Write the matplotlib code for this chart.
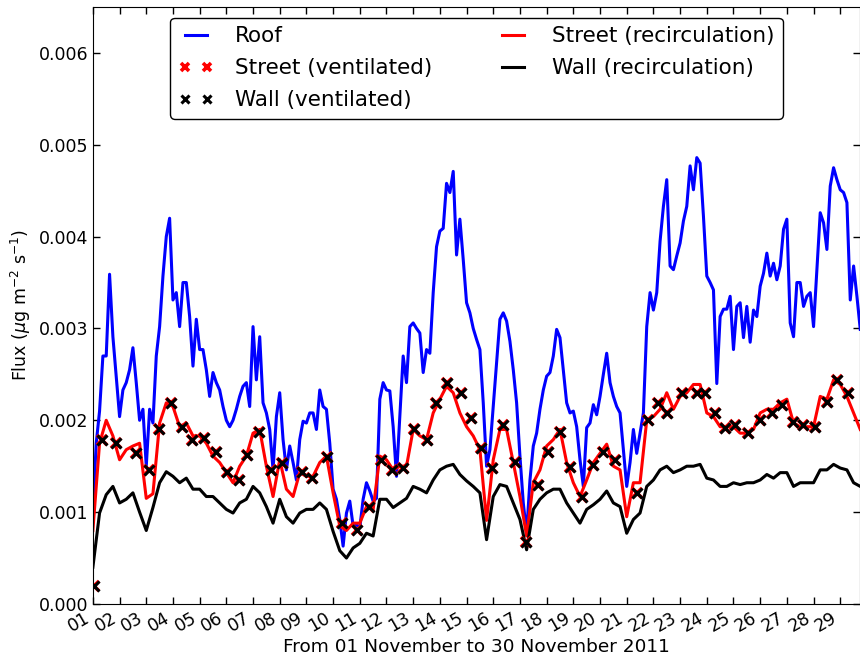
import matplotlib
matplotlib.use('Agg')
import matplotlib.pyplot as plt
import numpy as np

# Time axis in days since 01 November 2011 00:00
roof_step = 0.125
rec_step = 0.25

# Roof flux (x 1e-3), every 3 hours
roof = [1.0, 1.75, 2.1, 2.7, 2.7, 3.59, 2.91, 2.48, 2.04, 2.33, 2.41, 2.55, 2.79, 2.41, 2.0, 2.12,
        1.5, 2.12, 1.97, 2.7, 3.02, 3.57, 4.0, 4.2, 3.31, 3.39, 3.02, 3.5, 3.5, 3.13, 2.59, 3.1,
        2.77, 2.77, 2.55, 2.26, 2.52, 2.41, 2.33, 2.15, 2.0, 1.93, 2.0, 2.12, 2.26, 2.37, 2.41, 2.15,
        3.02,
        2.44, 2.91, 2.19, 2.08, 1.9, 1.46, 2.04, 2.3, 1.79, 1.46, 1.72, 1.54, 1.35, 1.79, 1.99, 1.97,
        2.08, 2.08, 1.9, 2.33, 2.15, 2.12, 1.75, 1.25, 1.14, 0.92, 0.63, 0.99, 1.12, 0.85, 0.86, 0.83,
        1.14, 1.32, 1.23, 1.12, 1.15, 2.23, 2.41, 2.33, 2.32, 1.93, 1.39, 2.04, 2.7, 2.41, 3.02, 3.06,
        3.0, 2.95, 2.52, 2.77, 2.73, 3.39, 3.89, 4.06, 4.09, 4.58, 4.48, 4.71, 3.8, 4.19, 3.75, 3.28,
        3.17, 3.0, 2.88, 2.77, 2.19, 1.5, 1.68, 2.15, 2.62, 3.1, 3.17, 3.08, 2.86, 2.55, 2.19, 1.61,
        1.1, 0.77, 1.35, 1.72, 1.86, 2.12, 2.33, 2.48, 2.52, 2.7, 2.99, 2.9, 2.55, 2.19, 2.08, 2.1,
        1.93, 1.57, 1.28, 1.92, 1.97, 2.17, 2.06, 2.26, 2.5, 2.73, 2.41, 2.26, 2.15, 2.08, 1.68, 1.28,
        1.54, 1.9, 1.64, 1.86, 2.08, 3.02, 3.39, 3.2, 3.39, 3.95, 4.33, 4.62, 3.68, 3.64, 3.79, 3.93,
        4.17, 4.33, 4.77, 4.51, 4.86, 4.8, 4.22, 3.57, 3.5, 3.42, 2.4, 3.13, 3.21, 3.21, 3.35, 2.77,
        3.24, 3.28, 2.9, 3.24, 2.85, 3.2, 3.13, 3.46, 3.6, 3.82, 3.57, 3.71, 3.53, 3.68, 4.08, 4.19,
        3.06, 2.91, 3.5, 3.5, 3.24, 3.35, 3.39, 3.02, 3.64, 4.26, 4.15, 3.86, 4.55, 4.75, 4.62, 4.51,
        4.48, 4.37, 3.31, 3.68, 3.35, 2.99]

# Street and wall flux in recirculation (x 1e-3), every 6 hours
street_rec = [0.8, 1.75, 2.0, 1.83, 1.57, 1.68, 1.72, 1.75, 1.15, 1.2, 1.97, 2.19, 2.15, 1.93, 1.97, 1.83,
              1.83, 1.75, 1.61, 1.54, 1.43, 1.32, 1.5, 1.61, 1.86,
              1.9, 1.5, 1.17, 1.57, 1.25, 1.17, 1.43, 1.39, 1.39, 1.54, 1.61, 1.21, 0.85, 0.8, 0.88, 0.88,
              1.06, 1.03, 1.61, 1.57, 1.46, 1.5, 1.5, 1.9,
              1.83, 1.79, 2.08, 2.23, 2.37, 2.3, 2.08, 1.93, 1.83, 1.68, 0.91, 1.57, 1.9, 1.9, 1.54, 1.17,
              0.74, 1.32, 1.46, 1.72, 1.79, 1.9, 1.54, 1.32,
              1.17, 1.35, 1.54, 1.64, 1.74, 1.5, 1.46, 0.95, 1.32, 1.32, 2.0, 2.04, 2.12, 2.3, 2.12, 2.26,
              2.3, 2.39, 2.39, 2.08, 2.04, 1.93, 1.93, 1.93,
              1.86, 1.86, 1.9, 2.08, 2.12, 2.12, 2.19, 2.23, 1.97, 1.93, 1.93, 1.93, 2.26, 2.23, 2.44, 2.39,
              2.26, 2.08, 1.9]

wall_rec = [0.4, 0.99, 1.19, 1.28, 1.1, 1.14, 1.21, 1.0, 0.8, 1.05, 1.32, 1.44, 1.39, 1.32, 1.37, 1.25,
            1.25, 1.17, 1.17, 1.1, 1.03, 0.99, 1.1, 1.14, 1.28,
            1.21, 1.06, 0.88, 1.14, 0.95, 0.88, 0.99, 1.03, 1.03, 1.1, 1.03, 0.79, 0.58, 0.5, 0.61, 0.66,
            0.77, 0.74, 1.14, 1.14, 1.05, 1.1, 1.15, 1.28,
            1.25, 1.21, 1.35, 1.46, 1.5, 1.52, 1.41, 1.34, 1.28, 1.21, 0.7, 1.17, 1.3, 1.28, 1.1, 0.92,
            0.59, 1.03, 1.14, 1.21, 1.25, 1.25, 1.1, 0.99,
            0.88, 1.03, 1.08, 1.14, 1.23, 1.1, 1.06, 0.77, 0.92, 0.99, 1.28, 1.35, 1.46, 1.5, 1.43, 1.46,
            1.5, 1.5, 1.52, 1.37, 1.35, 1.28, 1.28, 1.32,
            1.3, 1.32, 1.32, 1.35, 1.41, 1.37, 1.43, 1.43, 1.28, 1.32, 1.32, 1.32, 1.46, 1.46, 1.52, 1.48,
            1.46, 1.32, 1.28]

# Ventilated periods: times (days) and flux (x 1e-3)
vent_t = [0.04, 0.34, 0.86, 1.6, 2.1, 2.48, 2.93, 3.34, 3.72, 4.17, 4.6, 5.03, 5.48, 5.78, 6.23, 6.68,
          7.09, 7.84, 8.22, 8.78, 9.35, 9.9, 10.36, 10.8, 11.2, 11.6, 12.04, 12.5, 12.87, 13.28, 13.8,
          14.18, 14.55, 14.97, 15.38, 15.8, 16.24, 16.66, 17.04, 17.49, 17.86, 18.31, 18.72, 19.1, 19.55,
          20.37, 20.8, 21.17, 21.5, 22.06, 22.62, 22.93, 23.3, 23.68, 24.05, 24.54, 24.99, 25.44, 25.82,
          26.23, 26.6, 27.05, 27.5, 27.88, 28.29]
street_vent = [0.2, 1.79, 1.75, 1.64, 1.46, 1.9, 2.19, 1.93, 1.79, 1.81, 1.66, 1.44, 1.35, 1.62, 1.87, 1.46,
               1.53, 1.44, 1.37, 1.6, 0.88, 0.8, 1.06, 1.57, 1.46, 1.48, 1.9, 1.79, 2.19, 2.41, 2.3,
               2.02, 1.7, 1.48, 1.95, 1.55, 0.68, 1.3, 1.66, 1.87, 1.49, 1.17, 1.51, 1.66, 1.57,
               1.21, 2.0, 2.19, 2.08, 2.3, 2.3, 2.3, 2.08, 1.92, 1.95, 1.86, 2.0, 2.08, 2.17,
               1.98, 1.95, 1.93, 2.2, 2.44, 2.3]
wall_vent = list(street_vent)

day_labels = ['%02d' % d for d in range(1, 30)]

t_roof = np.arange(len(roof)) * roof_step
t_rec = np.arange(len(street_rec)) * rec_step
scale = 1e-3

fig = plt.figure(figsize=(8.6, 6.67), dpi=100)
ax = fig.add_axes([0.108, 0.0945, 0.892, 0.895])

ax.plot(t_roof, np.array(roof) * scale, color='blue', lw=2.2, label='Roof')
ax.plot(t_rec, np.array(street_rec) * scale, color='red', lw=2.2, label='Street (recirculation)')
ax.plot(t_rec, np.array(wall_rec) * scale, color='black', lw=2.2, label='Wall (recirculation)')
ax.plot(vent_t, np.array(street_vent) * scale, 'x', color='red', ms=7.5, mew=2.6,
        label='Street (ventilated)')
ax.plot(vent_t, np.array(wall_vent) * scale, 'x', color='black', ms=7, mew=2.2,
        label='Wall (ventilated)')

ax.set_xlim(0, 28.74)
ax.set_ylim(0, 0.0065)
ax.set_yticks(np.arange(0, 0.0061, 0.001))
ax.set_yticklabels(['%.3f' % v for v in np.arange(0, 0.0061, 0.001)], fontsize=12.5)
ax.set_xticks(range(len(day_labels)))
ax.set_xticklabels(day_labels, rotation=30, ha='right', fontsize=12.5)
ax.tick_params(direction='in', top=True, right=True, length=5, width=1)

ax.set_ylabel('Flux ($\\mu$g m$^{-2}$ s$^{-1}$)', fontsize=12.5)
ax.set_xlabel('From 01 November to 30 November 2011', fontsize=13.3, labelpad=2)

# Legend order: roof and ventilated in the first column, recirculation in the second
h, l = ax.get_legend_handles_labels()
order = [0, 3, 4, 1, 2]
leg = ax.legend([h[i] for i in order], [l[i] for i in order], loc='upper center', ncol=2,
                fontsize=15.5, numpoints=2, markerscale=0.8, handlelength=1.6, handletextpad=1.0,
                columnspacing=2.95, labelspacing=0.55, fancybox=True, framealpha=1)
leg.get_frame().set_edgecolor('black')

fig.savefig('out.png', dpi=100)
